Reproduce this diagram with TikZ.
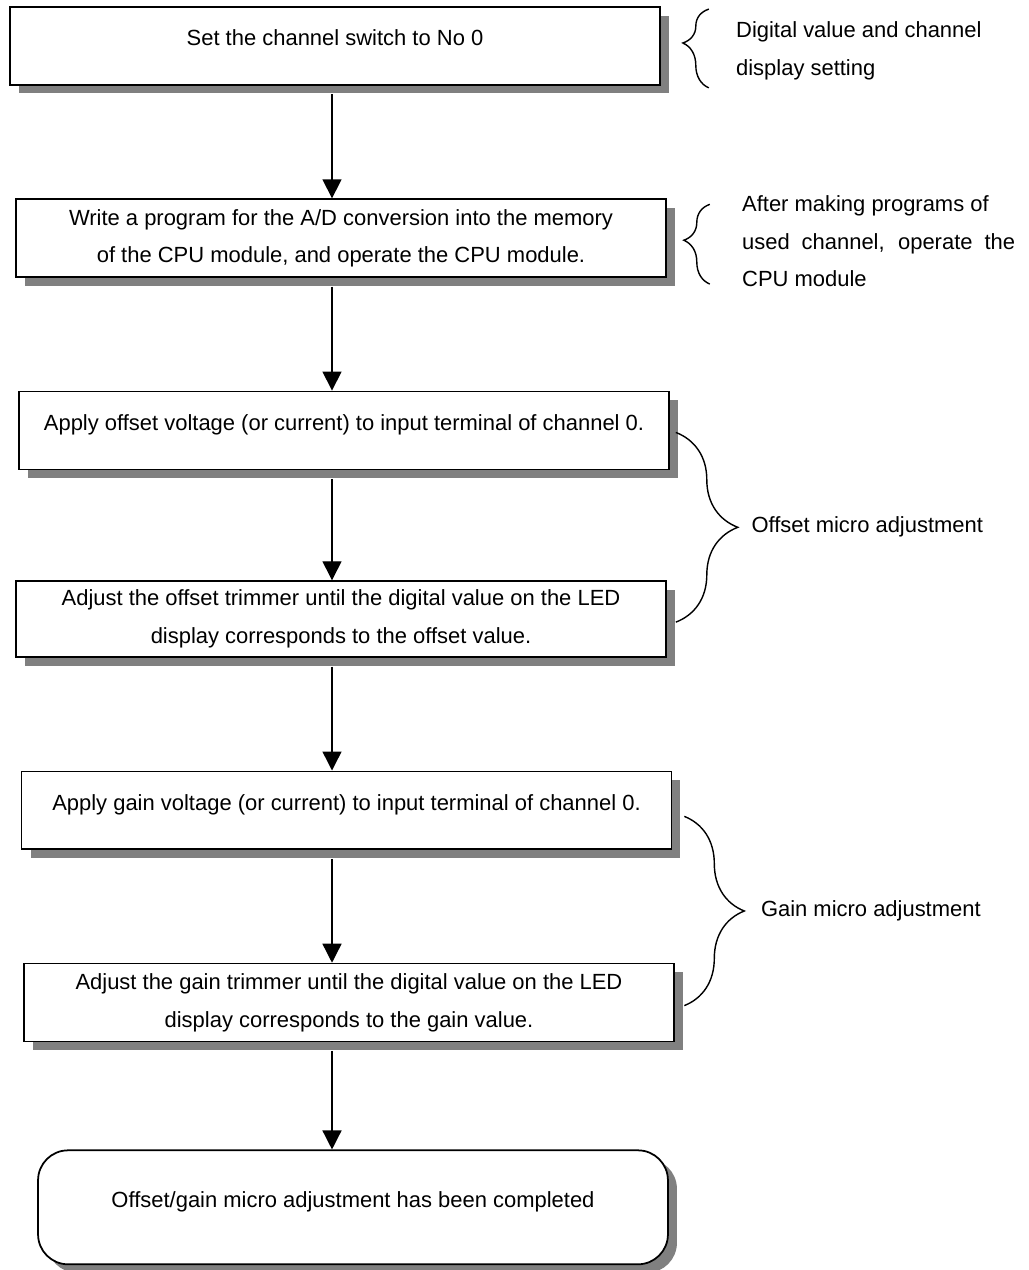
\documentclass[tikz,border=0pt]{standalone}
\usepackage{fontspec}
\setmainfont{Liberation Sans}
\usepackage{tikz}
\usetikzlibrary{arrows.meta, positioning, shadows, decorations.pathreplacing}
\definecolor{corSombra}{RGB}{128, 128, 128}

\begin{document}
\begin{tikzpicture}[
    x=0.02cm, y=-0.02cm,
    font=\fontsize{12.5}{21.5}\selectfont,
    blk/.style={draw, line width=1pt, fill=white, minimum width=13cm, minimum height=1.56cm,
                align=center, drop shadow={shadow xshift=0.18cm, shadow yshift=-0.17cm,
                fill=corSombra, opacity=1}},
    upper/.style={text height=0.32cm, text depth=0.32cm},
    note/.style={inner sep=0pt, align=left, anchor=west},
    brc/.style={decorate, decoration={brace, amplitude=#1}, line width=0.8pt},
    arr/.style={-{Triangle[length=0.38cm, width=0.38cm]}, line width=0.8pt, shorten <=0.17cm},
    node distance=2.25cm
]
\useasboundingbox (0,0) rectangle (1028,1270);

\node[blk, upper] (set) at (335,46) {Set the channel switch to No 0};
\node[blk, below=of set, xshift=0.12cm] (prog) {Write a program for the A/D conversion into the memory\\of the CPU module, and operate the CPU module.};
\node[blk, upper, below=of prog, xshift=0.06cm] (offv) {Apply offset voltage (or current) to input terminal of channel 0.};
\node[blk, minimum height=1.52cm, below=2.2cm of offv, xshift=-0.06cm] (offt) {Adjust the offset trimmer until the digital value on the LED\\display corresponds to the offset value.};
\node[blk, upper, below=of offt, xshift=0.11cm] (gainv) {Apply gain voltage (or current) to input terminal of channel 0.};
\node[blk, below=of gainv, xshift=0.05cm] (gaint) {Adjust the gain trimmer until the digital value on the LED\\display corresponds to the gain value.};
\node[blk, upper, minimum width=12.6cm, minimum height=2.28cm, rounded corners=0.6cm,
      below=2.14cm of gaint, xshift=0.08cm] (done) {Offset/gain micro adjustment has been completed};

\coordinate (spine) at (332,0);
\draw[arr] (set.south -| spine) -- (prog.north -| spine);
\draw[arr] (prog.south -| spine) -- (offv.north -| spine);
\draw[arr] (offv.south -| spine) -- (offt.north -| spine);
\draw[arr] (offt.south -| spine) -- (gainv.north -| spine);
\draw[arr] (gainv.south -| spine) -- (gaint.north -| spine);
\draw[arr] (gaint.south -| spine) -- (done.north -| spine);

% notes on the right
\draw[brc=0.52cm, decoration={aspect=0.57}] ([xshift=0.96cm, yshift=-0.04cm]set.south east) -- ([xshift=0.96cm, yshift=-0.06cm]set.north east);
\node[note, right=1.5cm of set, yshift=-0.1cm] (nset) {Digital value and channel\\display setting};

\draw[brc=0.52cm, decoration={aspect=0.55}] ([xshift=0.86cm, yshift=-0.12cm]prog.south east) -- ([xshift=0.86cm, yshift=-0.12cm]prog.north east);
\node[note, right=1.5cm of prog, yshift=-0.06cm] (nprog) {After making programs of\\\makebox[5.46cm][s]{used channel, operate the}\\CPU module};

\coordinate (o1) at ([xshift=0.12cm, yshift=-0.04cm]offv.east);
\draw[brc=1.24cm] (o1) -- ([yshift=-0.06cm]o1 |- offt.east) node[note, midway, right=1.5cm] (noff) {Offset micro adjustment};

\coordinate (g1) at ([xshift=0.24cm, yshift=-0.12cm]gainv.east);
\draw[brc=1.2cm] (g1) -- ([yshift=-0.06cm]g1 |- gaint.east) node[note, midway, right=1.52cm] (ngain) {Gain micro adjustment};
\end{tikzpicture}
\end{document}
